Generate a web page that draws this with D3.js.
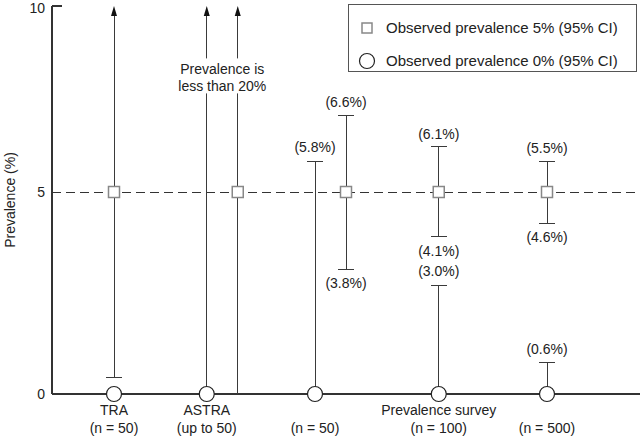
<!DOCTYPE html>
<html><head><meta charset="utf-8">
<script src="https://cdn.jsdelivr.net/npm/d3@7/dist/d3.min.js"></script>
<style>
html,body{margin:0;padding:0;background:#fff;}
svg{display:block;font-family:"Liberation Sans",Arial,sans-serif;}
line{shape-rendering:crispEdges;}
</style></head>
<body>
<svg id="chart" width="640" height="439"></svg>
<script>
// ---- data ----
const groupIds = ["g1", "g2", "g3", "g4", "g5"];
const groupNames = ["TRA", "ASTRA", "", "Prevalence survey", ""];
const sampleSizes = ["(n = 50)", "(up to 50)", "(n = 50)", "(n = 100)", "(n = 500)"];
const sideBySide = [false, true, true, false, false];

const squareValue = [5, 5, 5, 5, 5];
const squareLow = [0.41, 0, 3.09, 3.89, 4.23];
const squareHigh = [10, 10, 7.06, 6.22, 5.83];
const squareOpenEnded = [true, true, false, false, false];
const squareHighLabels = ["", "", "(6.6%)", "(6.1%)", "(5.5%)"];
const squareLowLabels = ["", "", "(3.8%)", "(4.1%)", "(4.6%)"];

const circleValue = [0, 0, 0, 0, 0];
const circleHigh = [null, 10, 5.83, 2.69, 0.78];
const circleOpenEnded = [false, true, false, false, false];
const circleHighLabels = ["", "", "(5.8%)", "(3.0%)", "(0.6%)"];

const yTicks = [0, 5, 10];
const yTitle = "Prevalence (%)";
const legendLabels = ["Observed prevalence 5% (95% CI)", "Observed prevalence 0% (95% CI)"];
const noteLines = ["Prevalence is", "less than 20%"];
const noteGroup = "g2";
const noteValue = 8;

// ---- layout ----
const svg = d3.select("#chart");
const axisX = 52;
const rightX = 640;
const y = d3.scaleLinear().domain([0, 5, 10]).range([394, 192, 6]);
const x = d3.scalePoint().domain(groupIds).range([114, 547]);
const dodge = 15.5;
const cap = 8;
const fontSize = 14;
const lineColor = "#3a3a3a";

// dashed reference line at 5
svg.append("line")
  .attr("x1", axisX).attr("x2", rightX)
  .attr("y1", y(5)).attr("y2", y(5))
  .attr("stroke", "#333").attr("stroke-width", 1)
  .attr("stroke-dasharray", "9,5");

// axes
svg.append("line").attr("x1", axisX).attr("x2", axisX).attr("y1", y(10)).attr("y2", y(0))
  .attr("stroke", "#333").attr("stroke-width", 1.2);
svg.append("line").attr("x1", axisX).attr("x2", rightX).attr("y1", y(0)).attr("y2", y(0))
  .attr("stroke", "#333").attr("stroke-width", 1.2);
svg.append("line").attr("x1", axisX).attr("x2", axisX + 10).attr("y1", y(10)).attr("y2", y(10))
  .attr("stroke", "#333").attr("stroke-width", 1.2);

svg.selectAll("text.ytick").data(yTicks).join("text")
  .attr("class", "ytick")
  .attr("x", axisX - 7).attr("y", d => y(d) + (d === 10 ? 2 : 0))
  .attr("dy", "0.36em").attr("text-anchor", "end")
  .attr("font-size", fontSize).attr("fill", "#222")
  .text(d => d);

svg.append("text")
  .attr("transform", `translate(10,${(y(0) + y(10)) / 2}) rotate(-90)`)
  .attr("text-anchor", "middle").attr("dy", "0.36em")
  .attr("font-size", fontSize).attr("fill", "#222")
  .text(yTitle);

// build records
const rows = groupIds.map((id, i) => ({
  id, i,
  cx: x(id) - (sideBySide[i] ? dodge : 0),
  sx: x(id) + (sideBySide[i] ? dodge : 0)
}));

function drawBar(g, xp, lo, hi, openHi, capLo, capHi) {
  const top = openHi ? y(hi) + 9 : y(hi);
  g.append("line").attr("x1", xp).attr("x2", xp).attr("y1", y(lo)).attr("y2", top)
    .attr("stroke", lineColor).attr("stroke-width", 1);
  if (openHi) {
    g.append("path")
      .attr("d", `M${xp},${y(hi)} L${xp - 3},${y(hi) + 10} L${xp + 3},${y(hi) + 10} Z`)
      .attr("fill", "#111");
  }
  if (capHi && !openHi) {
    g.append("line").attr("x1", xp - cap).attr("x2", xp + cap).attr("y1", y(hi)).attr("y2", y(hi))
      .attr("stroke", lineColor).attr("stroke-width", 1);
  }
  if (capLo) {
    g.append("line").attr("x1", xp - cap).attr("x2", xp + cap).attr("y1", y(lo)).attr("y2", y(lo))
      .attr("stroke", lineColor).attr("stroke-width", 1);
  }
}

const bars = svg.append("g");
rows.forEach(r => {
  drawBar(bars, r.sx, squareLow[r.i], squareHigh[r.i], squareOpenEnded[r.i],
    squareLow[r.i] > 0, true);
  if (circleHigh[r.i] !== null) {
    drawBar(bars, r.cx, circleValue[r.i], circleHigh[r.i], circleOpenEnded[r.i], false, true);
  }
});

// note with white background
const noteG = svg.append("g");
const noteCx = x(noteGroup);
const noteCy = y(noteValue);
noteG.append("rect")
  .attr("x", noteCx - 50).attr("y", noteCy - 22)
  .attr("width", 100).attr("height", 35).attr("fill", "#fff");
noteG.selectAll("text").data(noteLines).join("text")
  .attr("x", noteCx).attr("y", (d, k) => noteCy - 3 + (k - 0.5) * 17.5)
  .attr("dy", "0.36em").attr("text-anchor", "middle")
  .attr("font-size", fontSize).attr("fill", "#222")
  .text(d => d);

// markers
svg.selectAll("circle.obs0").data(rows).join("circle")
  .attr("class", "obs0")
  .attr("cx", d => d.cx).attr("cy", d => y(circleValue[d.i]))
  .attr("r", 7.5).attr("fill", "#fff").attr("stroke", "#222").attr("stroke-width", 1.2);

const sq = 11;
svg.selectAll("rect.obs5").data(rows).join("rect")
  .attr("class", "obs5")
  .attr("x", d => d.sx - sq / 2).attr("y", d => y(squareValue[d.i]) - sq / 2)
  .attr("width", sq).attr("height", sq)
  .attr("fill", "#fff").attr("stroke", "#888").attr("stroke-width", 1.5);

// value labels
function labels(arr, xKey, valArr, offset) {
  svg.append("g").selectAll("text").data(rows.filter(r => arr[r.i] !== "")).join("text")
    .attr("x", d => d[xKey]).attr("y", d => y(valArr[d.i]) + offset)
    .attr("dy", "0.36em").attr("text-anchor", "middle")
    .attr("font-size", fontSize).attr("fill", "#222")
    .text(d => arr[d.i]);
}
labels(squareHighLabels, "sx", squareHigh, -13);
labels(squareLowLabels, "sx", squareLow, 14);
labels(circleHighLabels, "cx", circleHigh, -14);

// x category labels
svg.append("g").selectAll("text").data(rows).join("text")
  .attr("x", d => d.cx).attr("y", 415)
  .attr("text-anchor", "middle").attr("font-size", fontSize).attr("fill", "#222")
  .text(d => groupNames[d.i]);
svg.append("g").selectAll("text").data(rows).join("text")
  .attr("x", d => d.cx).attr("y", 433)
  .attr("text-anchor", "middle").attr("font-size", fontSize).attr("fill", "#222")
  .text(d => sampleSizes[d.i]);

// legend
const leg = svg.append("g");
leg.append("rect").attr("x", 348.5).attr("y", 4.5).attr("width", 288).attr("height", 67)
  .attr("fill", "#fff").attr("stroke", "#555").attr("stroke-width", 1);
const legRows = leg.selectAll("g").data(legendLabels).join("g")
  .attr("transform", (d, k) => `translate(367,${28 + k * 33})`);
legRows.filter((d, k) => k === 0).append("rect")
  .attr("x", -5).attr("y", -5).attr("width", 10).attr("height", 10)
  .attr("fill", "#fff").attr("stroke", "#888").attr("stroke-width", 1.5);
legRows.filter((d, k) => k === 1).append("circle")
  .attr("r", 7.5).attr("fill", "#fff").attr("stroke", "#222").attr("stroke-width", 1.2);
legRows.append("text").attr("x", 19).attr("dy", "0.36em")
  .attr("font-size", 15).attr("fill", "#222")
  .text(d => d);
</script>
</body></html>
